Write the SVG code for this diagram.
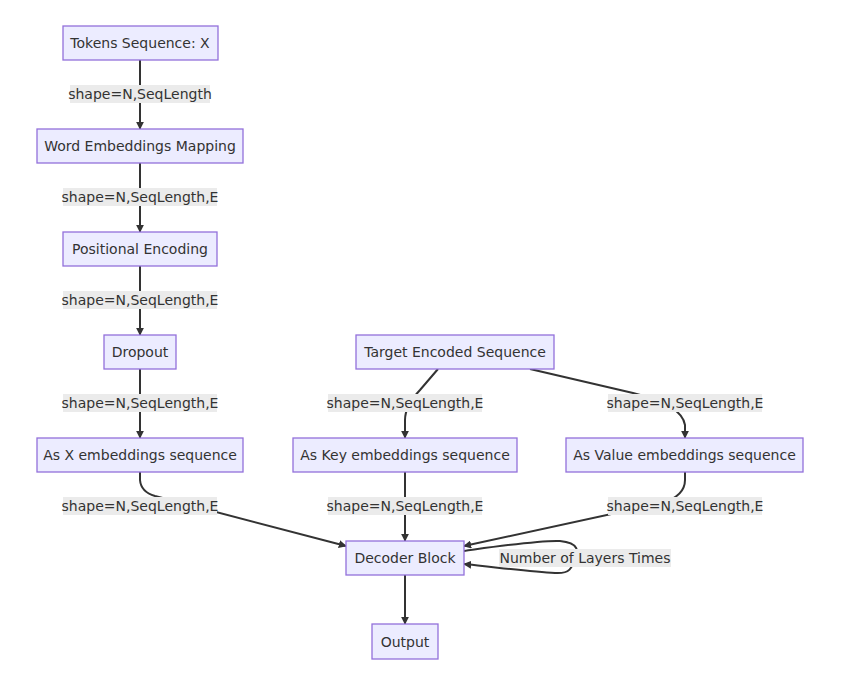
<svg xmlns="http://www.w3.org/2000/svg" width="858" height="683" viewBox="0 0 858 683">
<style>
.node rect{fill:#ECECFF;stroke:#9370DB;stroke-width:1.3}
text{font-family:"DejaVu Sans",Verdana,sans-serif;font-size:14px;fill:#333;text-anchor:middle;dominant-baseline:central}
.edge{fill:none;stroke:#333;stroke-width:2}
.lbl rect{fill:#ebebeb;stroke:none}
</style>
<defs>
<marker id="arr" viewBox="0 0 10 10" refX="9" refY="5" markerWidth="8" markerHeight="8" markerUnits="userSpaceOnUse" orient="auto">
<path d="M0,0 L10,5 L0,10 z" fill="#333"/>
</marker>
</defs>
<rect width="858" height="683" fill="#fff"/>
<g id="connectors">
<path class="edge" d="M140,60 L140,129" marker-end="url(#arr)"/>
<path class="edge" d="M140,163 L140,232" marker-end="url(#arr)"/>
<path class="edge" d="M140,266 L140,335" marker-end="url(#arr)"/>
<path class="edge" d="M140,369 L140,438" marker-end="url(#arr)"/>
<path class="edge" d="M140,472 L140,480 Q141,492 155,496 L346,546" marker-end="url(#arr)"/>
<path class="edge" d="M438,369 L420,390 Q405,406 405,420 L405,438" marker-end="url(#arr)"/>
<path class="edge" d="M530,369 L633,393 Q682,405 685,425 L685,438" marker-end="url(#arr)"/>
<path class="edge" d="M405,472 L405,541" marker-end="url(#arr)"/>
<path class="edge" d="M685,472 L685,480 Q685,496 662,503 L464,546" marker-end="url(#arr)"/>
<path class="edge" d="M464,551 C500,546 540,540 560,541 C580,543 578,552 575,558 C572,568 570,574 555,573 C530,572 495,567 464,564" marker-end="url(#arr)"/>
<path class="edge" d="M405,575 L405,624" marker-end="url(#arr)"/>
</g>
<g id="edge-labels">
<g class="lbl"><rect x="70" y="85" width="140" height="18"/><text x="140" y="94">shape=N,SeqLength</text></g>
<g class="lbl"><rect x="63" y="188" width="154" height="18"/><text x="140" y="197">shape=N,SeqLength,E</text></g>
<g class="lbl"><rect x="63" y="291" width="154" height="18"/><text x="140" y="300">shape=N,SeqLength,E</text></g>
<g class="lbl"><rect x="63" y="394" width="154" height="18"/><text x="140" y="403">shape=N,SeqLength,E</text></g>
<g class="lbl"><rect x="63" y="497" width="154" height="18"/><text x="140" y="506">shape=N,SeqLength,E</text></g>
<g class="lbl"><rect x="328" y="394" width="154" height="18"/><text x="405" y="403">shape=N,SeqLength,E</text></g>
<g class="lbl"><rect x="608" y="394" width="154" height="18"/><text x="685" y="403">shape=N,SeqLength,E</text></g>
<g class="lbl"><rect x="328" y="497" width="154" height="18"/><text x="405" y="506">shape=N,SeqLength,E</text></g>
<g class="lbl"><rect x="608" y="497" width="154" height="18"/><text x="685" y="506">shape=N,SeqLength,E</text></g>
<g class="lbl"><rect x="499" y="549" width="172" height="18"/><text x="585" y="558">Number of Layers Times</text></g>
</g>
<g id="tokens" class="node"><rect x="63" y="26" width="155" height="34"/><text x="140" y="43">Tokens Sequence: X</text></g>
<g id="word-emb" class="node"><rect x="37" y="129" width="206" height="34"/><text x="140" y="146">Word Embeddings Mapping</text></g>
<g id="pos-enc" class="node"><rect x="63" y="232" width="154" height="34"/><text x="140" y="249">Positional Encoding</text></g>
<g id="dropout" class="node"><rect x="104" y="335" width="72" height="34"/><text x="140" y="352">Dropout</text></g>
<g id="as-x" class="node"><rect x="37" y="438" width="206" height="34"/><text x="140" y="455">As X embeddings sequence</text></g>
<g id="target" class="node"><rect x="356" y="335" width="198" height="34"/><text x="455" y="352">Target Encoded Sequence</text></g>
<g id="as-key" class="node"><rect x="293" y="438" width="224" height="34"/><text x="405" y="455">As Key embeddings sequence</text></g>
<g id="as-value" class="node"><rect x="566" y="438" width="237" height="34"/><text x="684.5" y="455">As Value embeddings sequence</text></g>
<g id="decoder" class="node"><rect x="346" y="541" width="118" height="34"/><text x="405" y="558">Decoder Block</text></g>
<g id="output" class="node"><rect x="372" y="624" width="66" height="35"/><text x="405" y="641.5">Output</text></g>
</svg>
